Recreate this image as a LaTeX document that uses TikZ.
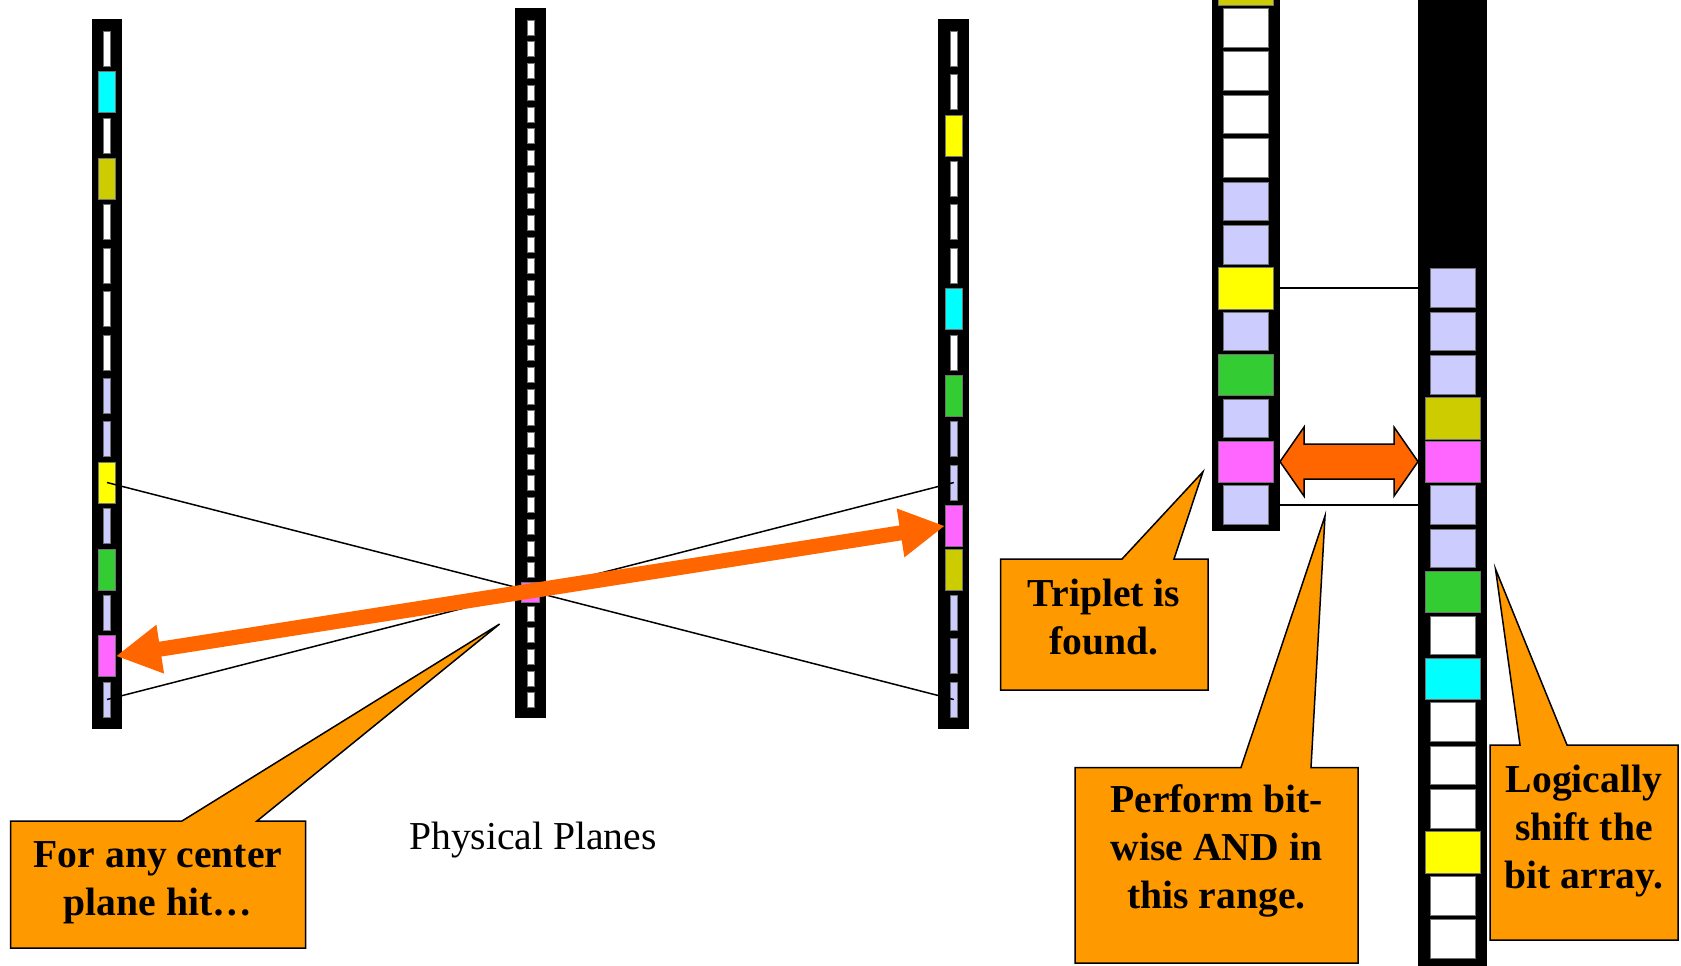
\documentclass[tikz,border=0pt]{standalone}
\usepackage{fontspec}
\setmainfont{Liberation Serif}
\usepackage{xcolor}
\usetikzlibrary{arrows.meta,calc}

\definecolor{lav}{HTML}{CCCCFF}
\definecolor{hitcyan}{HTML}{00FFFF}
\definecolor{hitolive}{HTML}{CCCC00}
\definecolor{hityellow}{HTML}{FFFF00}
\definecolor{hitgreen}{HTML}{33CC33}
\definecolor{hitpink}{HTML}{FF66FF}
\definecolor{arrowor}{HTML}{FF6600}
\definecolor{noteor}{HTML}{FF9900}

\begin{document}
\begin{tikzpicture}[x=0.5pt,y=-0.5pt,
  cellbase/.style={draw=black!55,line width=0.3pt,inner sep=0pt},
  slot/.style={cellbase,minimum width=3.5pt,minimum height=17.5pt},
  chip/.style={cellbase,minimum width=8.5pt,minimum height=20.5pt},
  bigslot/.style={cellbase,minimum width=22.5pt,minimum height=19.3pt},
  bigchip/.style={cellbase,minimum width=27.5pt,minimum height=20.8pt},
  cslot/.style={cellbase,fill=white,minimum width=3.5pt,minimum height=7.5pt},
  hitmark/.style={cellbase,fill=hitpink,minimum width=9pt,minimum height=10pt},
  track/.style={black,line width=0.75pt},
  hitarrow/.style={arrowor,line width=7.5pt,
    {Triangle[length=22.5pt,width=23pt]}-{Triangle[length=22.5pt,width=23pt]}},
  note/.style={fill=noteor,draw=black,line width=0.75pt},
  notetext/.style={align=center,font=\bfseries\fontsize{19.8pt}{24pt}\selectfont}]
\fill[white] (0,0) rectangle (1681,965);
\useasboundingbox (0,0) rectangle (1681,965);

% outer plane, left
\fill (92,19) rectangle (122,729);
\foreach \c/\k [count=\i from 0] in {white/slot,hitcyan/chip,white/slot,hitolive/chip,
    white/slot,white/slot,white/slot,white/slot,lav/slot,lav/slot,hityellow/chip,
    lav/slot,hitgreen/chip,lav/slot,hitpink/chip,lav/slot}
  \node[\k,fill=\c] (L\i) at (107,{48.5+43.4*\i}) {};

% center plane
\fill (515,8) rectangle (546,718);
\foreach \k in {0,...,31}
  \node[cslot] (C\k) at (530.5,{27.5+21.7*\k}) {};
\node[hitmark] (Chit) at (530.5,592.7) {};

% outer plane, right
\fill (938,19) rectangle (969,729);
\foreach \c/\k [count=\i from 0] in {white/slot,white/slot,hityellow/chip,white/slot,
    white/slot,white/slot,hitcyan/chip,white/slot,hitgreen/chip,lav/slot,lav/slot,
    hitpink/chip,hitolive/chip,lav/slot,lav/slot,lav/slot}
  \node[\k,fill=\c] (R\i) at (953.8,{48.5+43.4*\i}) {};

% road limits and the matching hits
\draw[track] (L10.center) -- (R15.center);
\draw[track] (L15.center) -- (R10.center);
\draw[hitarrow] (L14.east) -- (R11.west);

\node[font=\fontsize{19.8pt}{24pt}\selectfont] (planes) at (533,840) {Physical Planes};

% bit arrays, enlarged
\fill (1212,-10) rectangle (1280,531);
\foreach \c/\k [count=\i from 0] in {white/bigslot,hitcyan/bigchip,white/bigslot,
    hitolive/bigchip,white/bigslot,white/bigslot,white/bigslot,white/bigslot,
    lav/bigslot,lav/bigslot,hityellow/bigchip,lav/bigslot,hitgreen/bigchip,
    lav/bigslot,hitpink/bigchip,lav/bigslot}
  \node[\k,fill=\c] (BL\i) at (1246,{461.6+43.4*(\i-14)}) {};

\fill (1418,-10) rectangle (1487,975);
\foreach \c/\k [count=\i from 0] in {lav/bigslot,lav/bigslot,lav/bigslot,
    hitolive/bigchip,hitpink/bigchip,lav/bigslot,lav/bigslot,hitgreen/bigchip,
    white/bigslot,hitcyan/bigchip,white/bigslot,white/bigslot,white/bigslot,
    hityellow/bigchip,white/bigslot,white/bigslot}
  \node[\k,fill=\c] (BR\i) at (1452.5,{461.6+43.4*(\i-4)}) {};

\coordinate (gapL) at (1280,0);
\coordinate (gapR) at (1418,0);
\draw[track] (BL10 -| gapL) -- (BL10 -| gapR);
\draw[track] (BL15 -| gapL) -- (BL15 -| gapR);

% double block arrow between the arrays
\coordinate (dA) at (BL14 -| gapL);
\coordinate (dB) at (BL14 -| gapR);
\draw[note,fill=arrowor] (dA) -- ++(24,-34.5) -- ++(0,17) -- ($(dB)+(-24,-17.5)$)
  -- ++(0,-17) -- (dB) -- ++(-24,34.5) -- ++(0,-17) -- ($(dA)+(24,17.5)$)
  -- ++(0,17) -- cycle;

% callouts
\draw[note] (10.7,821) -- (182,821) -- (499.6,624) -- (257,821) -- (305.5,821)
  -- (305.5,948) -- (10.7,948) -- cycle;
\node[notetext] (hitnote) at (158,883) {For any center\\plane hit…};

\draw[note] (1000.5,559) -- (1122,559) -- (1203,471.7) -- (1174,559) -- (1208,559)
  -- (1208,690) -- (1000.5,690) -- cycle;
\node[notetext] (foundnote) at (1104,617) {Triplet is\\found.};

\draw[note] (1075,767.5) -- (1241,767.5) -- (1325,516) -- (1311,767.5) -- (1358,767.5)
  -- (1358,963) -- (1075,963) -- cycle;
\node[notetext] (andnote) at (1216.5,851) {Perform bit-\\wise AND in\\this range.};

\draw[note] (1490,745) -- (1520,745) -- (1495.5,569) -- (1567,745) -- (1678,745)
  -- (1678,940) -- (1490,940) -- cycle;
\node[notetext] (shiftnote) at (1584,831) {Logically\\shift the\\bit array.};
\end{tikzpicture}
\end{document}
